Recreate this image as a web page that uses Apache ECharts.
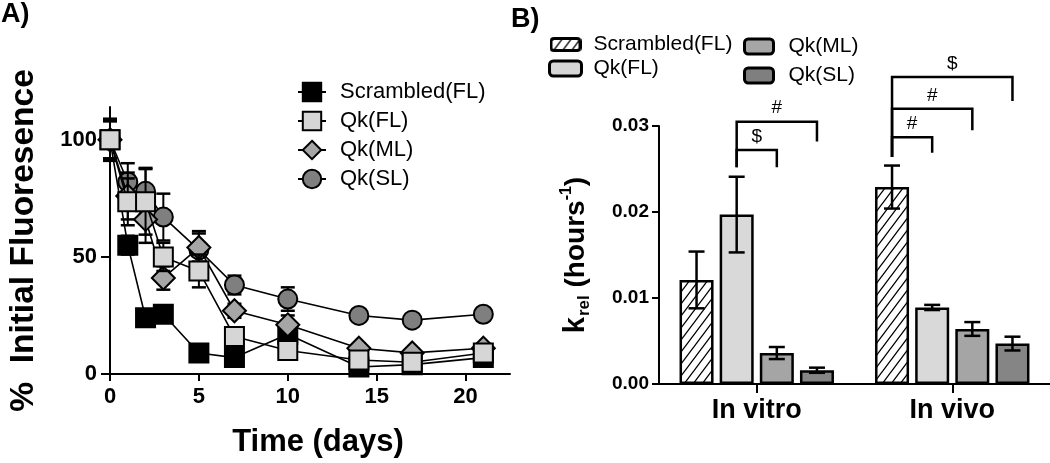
<!DOCTYPE html>
<html><head><meta charset="utf-8">
<script src="https://cdn.jsdelivr.net/npm/echarts@6/dist/echarts.min.js"></script>
<style>html,body{margin:0;padding:0;background:#fff}#c{width:1050px;height:463px}</style>
</head><body><div id="c"></div>
<script>
// ---------- Panel A data ----------
const days = [0, 1, 2, 3, 5, 7, 10, 14, 17, 21];
const scrambledFL = [100, 55, 24, 25.5, 9, 7, 17, 3, 4, 7];
const scrambledFLErr = [9, 4, 3, 3, 2, 2, 5, 1, 1, 1];
const qkFL = [100, 73.5, 73.5, 50, 44, 16, 10, 6, 5, 9];
const qkFLErr = [8, 10, 14, 6, 7, 3, 3, 1, 1, 1];
const qkML = [100, 76, 66, 41, 54, 27, 21, 11, 9, 11];
const qkMLErr = [8, 10, 10, 5, 6, 3, 4, 2, 2, 2];
const qkSL = [100, 82, 78, 67, 53, 38, 32, 25, 23, 25.5];
const qkSLErr = [8, 8, 10, 10, 8, 4, 5, 2, 2, 2];
const xTicksA = [0, 5, 10, 15, 20];
const yTicksA = [0, 50, 100];

// ---------- Panel B data ----------
const groupsB = ['In vitro', 'In vivo'];
const namesB = ['Scrambled(FL)', 'Qk(FL)', 'Qk(ML)', 'Qk(SL)'];
const krelScrambledFL = [0.0121, 0.0229];
const krelScrambledFLErr = [0.0033, 0.0025];
const krelQkFL = [0.0197, 0.0089];
const krelQkFLErr = [0.0044, 0.0003];
const krelQkML = [0.0036, 0.0064];
const krelQkMLErr = [0.0007, 0.0008];
const krelQkSL = [0.0016, 0.0047];
const krelQkSLErr = [0.0003, 0.0008];
const yTicksB = [0, 0.01, 0.02, 0.03];

// significance brackets: group, from bar, to bar, top, right drop, left base, label
const bracketGroup = [0, 0, 1, 1, 1];
const bracketFrom = [1, 1, 0, 0, 0];
const bracketTo = [2, 3, 1, 2, 3];
const bracketTop = [0.0272, 0.0305, 0.0287, 0.0320, 0.0357];
const bracketDrop = [0.0252, 0.0282, 0.0269, 0.0295, 0.0329];
const bracketBase = [0.0252, 0.0252, 0.0264, 0.0264, 0.0264];
const bracketLabel = ['$', '#', '#', '#', '$'];

const FONT = '"Liberation Sans", Arial, sans-serif';
const CAT_GAP = 0.21, BAR_GAP = 0.18, NBARS = 4;

function drawHatch(g, w, h) {
  g.strokeStyle = '#000'; g.lineWidth = 1.3;
  g.beginPath();
  for (let x0 = -h; x0 < w + h; x0 += 9) {
    g.moveTo(x0, h); g.lineTo(x0 + h * 0.75, 0);
  }
  g.stroke();
}
function hatch() {
  const c = document.createElement('canvas');
  c.width = 9; c.height = 12;
  const g = c.getContext('2d');
  g.fillStyle = '#fff'; g.fillRect(0, 0, 9, 12);
  g.strokeStyle = '#000'; g.lineWidth = 1.3;
  g.beginPath();
  g.moveTo(0, 12); g.lineTo(9, 0);
  g.moveTo(-1, 1.33); g.lineTo(1, -1.33);
  g.moveTo(8, 13.33); g.lineTo(10, 10.67);
  g.stroke();
  return c;
}
function hatchIcon() {
  const w = 32, h = 15;
  const c = document.createElement('canvas');
  c.width = w; c.height = h;
  const g = c.getContext('2d');
  const r = 3;
  function rr() {
    g.beginPath();
    g.moveTo(1.5 + r, 1.5); g.lineTo(w - 1.5 - r, 1.5); g.quadraticCurveTo(w - 1.5, 1.5, w - 1.5, 1.5 + r);
    g.lineTo(w - 1.5, h - 1.5 - r); g.quadraticCurveTo(w - 1.5, h - 1.5, w - 1.5 - r, h - 1.5);
    g.lineTo(1.5 + r, h - 1.5); g.quadraticCurveTo(1.5, h - 1.5, 1.5, h - 1.5 - r);
    g.lineTo(1.5, 1.5 + r); g.quadraticCurveTo(1.5, 1.5, 1.5 + r, 1.5); g.closePath();
  }
  rr(); g.fillStyle = '#fff'; g.fill();
  g.save(); rr(); g.clip(); drawHatch(g, w, h); g.restore();
  rr(); g.lineWidth = 3; g.strokeStyle = '#000'; g.stroke();
  return 'image://' + c.toDataURL();
}

function barCenter(api, cat, idx) {
  const c = api.coord([cat, 0]);
  const band = api.size([1, 0])[0];
  const bw = band * (1 - CAT_GAP) / (NBARS + (NBARS - 1) * BAR_GAP);
  const total = bw * NBARS + bw * BAR_GAP * (NBARS - 1);
  return c[0] - total / 2 + idx * bw * (1 + BAR_GAP) + bw / 2;
}

const chart = echarts.init(document.getElementById('c'), null, {renderer: 'canvas'});

// Panel A series definitions (draw order: bottom -> top)
const lineDefs = [
  {name: 'Scrambled(FL)', vals: scrambledFL, errs: scrambledFLErr, symbol: 'rect', size: 19, color: '#000000'},
  {name: 'Qk(SL)', vals: qkSL, errs: qkSLErr, symbol: 'circle', size: 19, color: '#7f7f7f'},
  {name: 'Qk(ML)', vals: qkML, errs: qkMLErr, symbol: 'diamond', size: 23, color: '#a6a6a6'},
  {name: 'Qk(FL)', vals: qkFL, errs: qkFLErr, symbol: 'rect', size: 19, color: '#d6d6d6'}
];

const series = [];
lineDefs.forEach((d, k) => {
  series.push({
    type: 'custom', name: d.name + ' err', xAxisIndex: 0, yAxisIndex: 0,
    z: 2 + k * 2, clip: false, silent: true,
    data: days.map((x, i) => [x, d.vals[i], d.errs[i]]),
    encode: {x: 0, y: 1},
    renderItem: (params, api) => {
      const x = api.value(0), v = api.value(1), e = api.value(2);
      const p1 = api.coord([x, v + e]), p2 = api.coord([x, v - e]);
      const h = 7;
      return {type: 'group', children: [
        {type: 'line', shape: {x1: p1[0], y1: p1[1], x2: p2[0], y2: p2[1]}, style: {stroke: '#000', lineWidth: 2}},
        {type: 'line', shape: {x1: p1[0] - h, y1: p1[1], x2: p1[0] + h, y2: p1[1]}, style: {stroke: '#000', lineWidth: 2.5}},
        {type: 'line', shape: {x1: p2[0] - h, y1: p2[1], x2: p2[0] + h, y2: p2[1]}, style: {stroke: '#000', lineWidth: 2.5}}
      ]};
    }
  });
  series.push({
    type: 'line', name: d.name, xAxisIndex: 0, yAxisIndex: 0, z: 3 + k * 2,
    data: days.map((x, i) => [x, d.vals[i]]),
    symbol: d.symbol, symbolSize: d.size,
    lineStyle: {color: '#000', width: 1.6},
    itemStyle: {color: d.color, borderColor: '#000', borderWidth: 2, opacity: 1},
    emphasis: {disabled: true}
  });
});

// Panel B bars
const barVals = [krelScrambledFL, krelQkFL, krelQkML, krelQkSL];
const barErrs = [krelScrambledFLErr, krelQkFLErr, krelQkMLErr, krelQkSLErr];
const barColors = [{image: hatch(), repeat: 'repeat'}, '#d9d9d9', '#a5a5a5', '#858585'];
namesB.forEach((n, k) => {
  series.push({
    type: 'bar', name: n, xAxisIndex: 1, yAxisIndex: 1,
    data: barVals[k], barCategoryGap: (CAT_GAP * 100) + '%', barGap: (BAR_GAP * 100) + '%',
    itemStyle: {color: barColors[k], borderColor: '#000', borderWidth: 2.5},
    emphasis: {disabled: true}, z: 2
  });
});
const errDataB = [];
barVals.forEach((vals, k) => vals.forEach((v, g) => errDataB.push([g, k, v, barErrs[k][g]])));
series.push({
  type: 'custom', name: 'errB', xAxisIndex: 1, yAxisIndex: 1, z: 5, clip: false, silent: true,
  data: errDataB, encode: {x: 0, y: 2},
  renderItem: (params, api) => {
    const g = api.value(0), k = api.value(1), v = api.value(2), e = api.value(3);
    const x = barCenter(api, g, k);
    const y1 = api.coord([g, v + e])[1], y2 = api.coord([g, v - e])[1];
    const h = 8;
    return {type: 'group', children: [
      {type: 'line', shape: {x1: x, y1: y1, x2: x, y2: y2}, style: {stroke: '#000', lineWidth: 2.5}},
      {type: 'line', shape: {x1: x - h, y1: y1, x2: x + h, y2: y1}, style: {stroke: '#000', lineWidth: 2.5}},
      {type: 'line', shape: {x1: x - h, y1: y2, x2: x + h, y2: y2}, style: {stroke: '#000', lineWidth: 2.5}}
    ]};
  }
});
series.push({
  type: 'custom', name: 'brackets', xAxisIndex: 1, yAxisIndex: 1, z: 6, clip: false, silent: true,
  data: bracketGroup.map((g, i) => [g, bracketFrom[i], bracketTo[i], bracketTop[i], bracketDrop[i], bracketBase[i]]),
  encode: {x: 0, y: 3},
  renderItem: (params, api) => {
    const g = api.value(0);
    const x1 = barCenter(api, g, api.value(1)), x2 = barCenter(api, g, api.value(2));
    const top = api.coord([g, api.value(3)])[1];
    const drop = api.coord([g, api.value(4)])[1];
    const base = api.coord([g, api.value(5)])[1];
    return {type: 'group', children: [
      {type: 'polyline', shape: {points: [[x1, base], [x1, top], [x2, top], [x2, drop]]},
       style: {stroke: '#000', lineWidth: 2.5, fill: null}},
      {type: 'text', style: {text: bracketLabel[params.dataIndex], x: (x1 + x2) / 2, y: top - 4,
        align: 'center', verticalAlign: 'bottom', fontSize: 19, fontFamily: FONT, fill: '#000'}}
    ]};
  }
});

const option = {
  animation: false,
  backgroundColor: '#fff',
  textStyle: {fontFamily: FONT, color: '#000'},
  title: [
    {text: 'A)', left: 1, top: 1, padding: 0, textStyle: {fontSize: 27, fontWeight: 'bold', fontFamily: FONT, color: '#000'}},
    {text: 'B)', left: 511, top: 6, padding: 0, textStyle: {fontSize: 27, fontWeight: 'bold', fontFamily: FONT, color: '#000'}}
  ],
  legend: [
    {data: ['Scrambled(FL)', 'Qk(FL)', 'Qk(ML)', 'Qk(SL)'].map(n => ({name: n})), orient: 'vertical',
     left: 297, top: 81, itemWidth: 28, itemHeight: 23, itemGap: 7, padding: 0, selectedMode: false,
     textStyle: {fontSize: 22, fontFamily: FONT, color: '#000', lineHeight: 22, padding: [0, 0, 0, 9]}},
    {data: [{name: 'Scrambled(FL)', icon: hatchIcon()}, {name: 'Qk(FL)', icon: 'roundRect'}], orient: 'vertical',
     left: 548, top: 34, itemWidth: 32, itemHeight: 15, itemGap: 3, padding: 0, selectedMode: false,
     itemStyle: {borderWidth: 3, borderColor: '#000'},
     textStyle: {fontSize: 21, fontFamily: FONT, color: '#000', lineHeight: 16, padding: [0, 0, 0, 7]}},
    {data: ['Qk(ML)', 'Qk(SL)'].map(n => ({name: n, icon: 'roundRect'})), orient: 'vertical',
     left: 743, top: 36, itemWidth: 29, itemHeight: 15, itemGap: 8, padding: 0, selectedMode: false,
     itemStyle: {borderWidth: 3, borderColor: '#000'},
     textStyle: {fontSize: 21, fontFamily: FONT, color: '#000', lineHeight: 16, padding: [0, 0, 0, 10]}}
  ],
  grid: [
    {left: 110, top: 107, width: 400, height: 271, containLabel: false},
    {left: 659, top: 126, right: -2, height: 258, containLabel: false}
  ],
  xAxis: [
    {type: 'value', gridIndex: 0, min: 0, max: 22.5, interval: 5,
     name: 'Time (days)', nameLocation: 'middle', nameGap: 53,
     nameTextStyle: {fontSize: 31, fontWeight: 'bold', fontFamily: FONT, color: '#000', padding: [0, 0, 0, 16]},
     axisLine: {show: true, onZero: false, lineStyle: {color: '#000', width: 2}},
     axisTick: {show: true, inside: false, length: 7, lineStyle: {color: '#000', width: 2}, customValues: xTicksA},
     axisLabel: {customValues: xTicksA, margin: 12, fontSize: 22, fontWeight: 'bold', fontFamily: FONT, color: '#000',
       formatter: v => (xTicksA.indexOf(v) >= 0 ? String(v) : '')},
     splitLine: {show: false}},
    {type: 'category', gridIndex: 1, data: groupsB, boundaryGap: true,
     axisLine: {show: true, lineStyle: {color: '#000', width: 2}},
     axisTick: {show: true, alignWithLabel: true, length: 9, lineStyle: {color: '#000', width: 2}},
     axisLabel: {margin: 13, fontSize: 27, fontWeight: 'bold', fontFamily: FONT, color: '#000'},
     splitLine: {show: false}}
  ],
  yAxis: [
    {type: 'value', gridIndex: 0, min: 0, max: 114, interval: 50,
     name: '%  Initial Fluoresence', nameLocation: 'middle', nameGap: 69, nameRotate: 90,
     nameTextStyle: {fontSize: 33.5, fontWeight: 'bold', fontFamily: FONT, color: '#000'},
     axisLine: {show: true, onZero: false, lineStyle: {color: '#000', width: 2}},
     axisTick: {show: true, inside: false, length: 9, lineStyle: {color: '#000', width: 2}, customValues: yTicksA},
     axisLabel: {customValues: yTicksA, margin: 13, fontSize: 22, fontWeight: 'bold', fontFamily: FONT, color: '#000',
       formatter: v => (yTicksA.indexOf(v) >= 0 ? String(v) : '')},
     splitLine: {show: false}},
    {type: 'value', gridIndex: 1, min: 0, max: 0.03, interval: 0.01,
     name: '{k|k}{sub|rel}{t| (hours}{sup|-1}{t|)}', nameLocation: 'middle', nameGap: 66, nameRotate: 90,
     nameTextStyle: {fontFamily: FONT, color: '#000', fontWeight: 'bold', fontSize: 28,
       rich: {
         k: {fontSize: 29, fontWeight: 'bold', fontFamily: FONT, lineHeight: 34, verticalAlign: 'middle'},
         t: {fontSize: 28, fontWeight: 'bold', fontFamily: FONT, lineHeight: 34, verticalAlign: 'middle'},
         sub: {fontSize: 17, fontWeight: 'bold', fontFamily: FONT, lineHeight: 34, verticalAlign: 'bottom', padding: [0, 0, 0, 1]},
         sup: {fontSize: 16, fontWeight: 'bold', fontFamily: FONT, lineHeight: 34, verticalAlign: 'top'}
       }},
     axisLine: {show: true, lineStyle: {color: '#000', width: 2}},
     axisTick: {show: true, inside: false, length: 7, lineStyle: {color: '#000', width: 2}},
     axisLabel: {margin: 10, fontSize: 19, fontWeight: 'bold', fontFamily: FONT, color: '#000',
       formatter: v => v.toFixed(2)},
     splitLine: {show: false}}
  ],
  series: series
};
chart.setOption(option);
</script>
</body></html>
